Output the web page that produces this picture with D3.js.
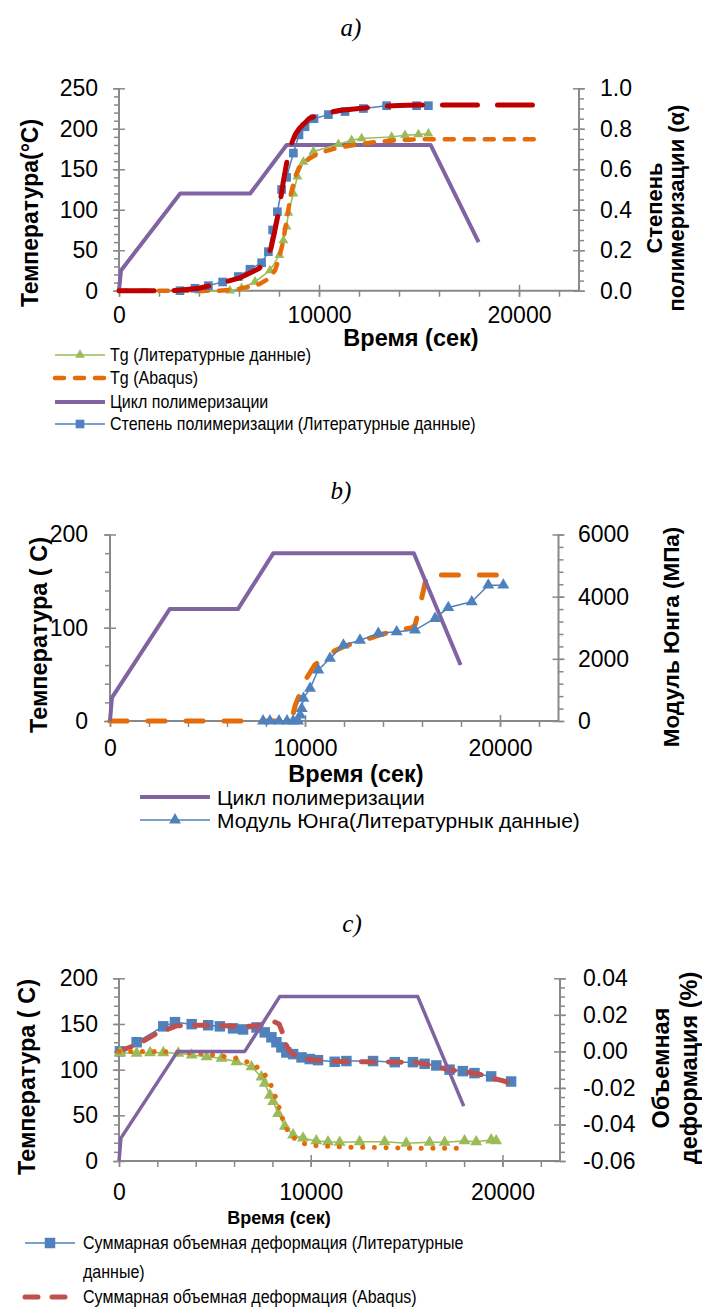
<!DOCTYPE html>
<html>
<head>
<meta charset="utf-8">
<script src="https://cdn.jsdelivr.net/npm/d3@7"></script>
<style>
  body { margin: 0; background: #fff; }
  svg { display: block; }
</style>
</head>
<body>
<svg id="fig" width="702" height="1311"></svg>
<script>
// ---------- shared cure cycle (temperature, °C) ----------
const cycleTime = [0, 100, 3060, 6560, 8380, 15580, 17980];
const cycleTemp = [0, 25, 120, 120, 180, 180, 60];

// ---------- panel a ----------
const tgLitTime = [4000, 5550, 6130, 6800, 7550, 8020, 8220, 8380, 8470, 8720, 8920, 9220, 9720, 10970, 11630, 12130, 13630, 14300, 14970, 15470];
const tgLitVal  = [0, 0, 3, 11, 25, 44, 62, 79, 96, 120, 141, 159, 172, 181, 186, 188, 190, 192, 193, 194];

const tgAbaqusTime = [0, 5000, 6000, 7000, 7500, 7800, 8000, 8200, 8400, 8600, 8800, 9000, 9500, 10000, 11000, 12000, 13000, 14000, 15000, 21100];
const tgAbaqusVal  = [0, 0, 2, 8, 15, 25, 40, 60, 90, 120, 140, 152, 163, 170, 177, 181, 184, 186, 187, 187];

const cureLitTime = [3050, 3800, 4470, 5180, 5970, 6550, 7130, 7470, 7680, 7920, 8130, 8380, 8720, 9000, 9300, 9750, 10470, 11300, 12220, 13380, 14880, 15470];
const cureLitVal  = [0, 0.012, 0.025, 0.043, 0.07, 0.106, 0.138, 0.193, 0.30, 0.39, 0.50, 0.56, 0.68, 0.77, 0.81, 0.85, 0.87, 0.885, 0.90, 0.914, 0.914, 0.914];

const cureModelTime = [0, 2000, 3000, 4000, 5000, 6000, 6500, 7000, 7300, 7600, 7800, 8000, 8200, 8400, 8600, 8800, 9000, 9500, 10000, 11000, 12000, 13000, 14000, 15000, 21100];
const cureModelVal  = [0, 0, 0.002, 0.012, 0.035, 0.062, 0.085, 0.11, 0.14, 0.21, 0.3, 0.4, 0.53, 0.64, 0.72, 0.77, 0.8, 0.85, 0.87, 0.89, 0.9, 0.91, 0.915, 0.918, 0.918];

// ---------- panel b ----------
const youngLitTime = [7850, 8200, 8670, 9080, 9390, 9640, 9750, 9830, 9920, 10260, 10680, 11280, 11970, 12820, 13760, 14700, 15640, 16670, 17350, 18550, 19400, 20170];
const youngLitVal  = [0, 0, 0, 0, 0, 0, 190, 400, 730, 1050, 1640, 2015, 2440, 2600, 2820, 2870, 2925, 3300, 3650, 3835, 4370, 4370];

const youngAbaqusTime = [0, 9300, 9500, 10000, 10500, 11000, 11500, 12000, 13000, 14000, 15000, 15500, 15650, 16000, 16250, 20400];
const youngAbaqusVal  = [0, 0, 500, 1300, 1800, 2050, 2250, 2400, 2600, 2800, 2950, 3000, 3100, 4000, 4700, 4700];

// ---------- panel c ----------
const volLitTime = [50, 920, 2310, 2920, 3790, 4650, 5260, 5950, 6470, 7170, 7600, 7950, 8210, 8470, 8730, 9080, 9520, 9950, 10380, 11250, 11860, 13250, 14380, 15330, 15940, 16550, 17240, 17930, 18540, 19410, 20450];
const volLitVal  = [0, 0.005, 0.0137, 0.016, 0.0149, 0.0143, 0.0137, 0.0126, 0.012, 0.0131, 0.0104, 0.0077, 0.005, 0.0022, -0.0006, -0.0015, -0.0033, -0.0042, -0.0048, -0.0057, -0.0053, -0.0053, -0.0059, -0.0059, -0.0068, -0.0077, -0.01, -0.0108, -0.0119, -0.0137, -0.0165];

const volAbaqusTime = [0, 1000, 2000, 3000, 4000, 5000, 6000, 7000, 7600, 8100, 8350, 8500, 8700, 8900, 9300, 10000, 11000, 12000, 13000, 14000, 15000, 15500, 16000, 16500, 17000, 17500, 18000, 19000, 19500, 20000, 20300];
const volAbaqusVal  = [0, 0.004, 0.01, 0.014, 0.0143, 0.0143, 0.0138, 0.0138, 0.0148, 0.0162, 0.015, 0.011, 0.004, 0, -0.003, -0.0045, -0.0055, -0.0055, -0.0057, -0.0058, -0.006, -0.006, -0.007, -0.0082, -0.0095, -0.0105, -0.011, -0.013, -0.0148, -0.016, -0.017];

const tgLitTimeC = [50, 920, 1620, 2310, 3090, 3790, 4570, 5350, 6130, 6910, 7430, 7600, 7870, 8040, 8300, 8650, 9080, 9600, 10290, 10900, 11510, 12550, 13850, 14980, 16200, 16980, 18020, 18630, 19410, 19670];
const tgLitValC  = [118.5, 118, 118.5, 118.5, 118, 116, 114, 112.4, 108.7, 103, 92, 85, 72, 65, 52, 38, 28.5, 25, 22, 21, 20.4, 21, 21, 19.4, 20.4, 20.4, 22, 21, 23, 22];

const tgAbaqusTimeC = [0, 2000, 3000, 4000, 5000, 6000, 6500, 7000, 7500, 7800, 8000, 8200, 8400, 8600, 8800, 9000, 9500, 10000, 11000, 12000, 13000, 14000, 15000, 16000, 17000, 17850];
const tgAbaqusValC  = [120, 120, 119, 118, 116, 113, 110, 106, 98, 88, 80, 68, 55, 42, 33, 27, 20, 17, 16, 15, 15, 14.5, 14, 14, 14, 14];

// ---------- tick values ----------
const timeMajor = [0, 10000, 20000];
const timeMinor = d3.range(0, 23000, 2000);

// ---------- styling ----------
const AXIS = "#898989";
const COL = { purple: "#8064A2", blue: "#4F81BD", green: "#9BBB59", orange: "#E46C0A", darkRed: "#C00000", red: "#C0504D" };
const SANS = '"Liberation Sans", Arial, sans-serif';
const SERIF = '"Liberation Serif", "Times New Roman", serif';
const FONT_TICK = 23;

const svg = d3.select("#fig");

function styleAxis(g) {
  g.select(".domain").remove();
  g.selectAll(".tick line").attr("stroke", AXIS).attr("stroke-width", 1.5);
  g.selectAll(".tick text").style("font-size", FONT_TICK + "px").style("font-family", SANS).attr("fill", "#000");
  return g;
}

function label(parent, text, size, bold) {
  return parent.append("text").style("font-family", SANS).style("font-size", size + "px")
    .style("font-weight", bold ? "bold" : "normal").attr("fill", "#000").text(text);
}

function panel(cfg) {
  const g = svg.append("g");
  const x = d3.scaleLinear().domain([0, 23000]).range([cfg.x0, cfg.x1]);
  const yL = d3.scaleLinear().domain(cfg.leftDomain).range([cfg.yBot, cfg.yTop]);
  const yR = d3.scaleLinear().domain(cfg.rightDomain).range([cfg.yBot, cfg.yTop]);

  // bottom axis: minor ticks outside, major ticks crossing with labels
  styleAxis(g.append("g").attr("transform", `translate(0,${cfg.yBot})`)
    .call(d3.axisBottom(x).tickValues(timeMinor).tickSize(6).tickSizeOuter(0).tickFormat("")));
  const bx = styleAxis(g.append("g").attr("transform", `translate(0,${cfg.yBot})`)
    .call(d3.axisBottom(x).tickValues(timeMajor).tickSize(6).tickSizeOuter(0)
      .tickPadding(cfg.xPad).tickFormat(d3.format("d"))));
  bx.selectAll(".tick line").attr("y1", -6);

  // left axis
  styleAxis(g.append("g").attr("transform", `translate(${cfg.x0},0)`)
    .call(d3.axisLeft(yL).tickValues(cfg.leftMinor).tickSize(5).tickSizeOuter(0).tickFormat("")));
  const lx = styleAxis(g.append("g").attr("transform", `translate(${cfg.x0},0)`)
    .call(d3.axisLeft(yL).tickValues(cfg.leftMajor).tickSize(6).tickSizeOuter(0)
      .tickPadding(cfg.leftPad).tickFormat(cfg.leftFmt)));
  lx.selectAll(".tick line").attr("x1", 6);

  // right axis
  styleAxis(g.append("g").attr("transform", `translate(${cfg.x1},0)`)
    .call(d3.axisRight(yR).tickValues(cfg.rightMinor).tickSize(5).tickSizeOuter(0).tickFormat("")));
  const rx = styleAxis(g.append("g").attr("transform", `translate(${cfg.x1},0)`)
    .call(d3.axisRight(yR).tickValues(cfg.rightMajor).tickSize(6).tickSizeOuter(0)
      .tickPadding(cfg.rightPad).tickFormat(cfg.rightFmt)));
  rx.selectAll(".tick line").attr("x1", -6);

  // axis lines
  const lines = [[cfg.x0, cfg.yBot, cfg.x1, cfg.yBot], [cfg.x0, cfg.yTop, cfg.x0, cfg.yBot], [cfg.x1, cfg.yTop, cfg.x1, cfg.yBot]];
  g.selectAll("line.ax").data(lines).join("line").attr("class", "ax")
    .attr("x1", d => d[0]).attr("y1", d => d[1]).attr("x2", d => d[2]).attr("y2", d => d[3])
    .attr("stroke", AXIS).attr("stroke-width", 2);

  // panel letter
  g.append("text").attr("x", cfg.title[0]).attr("y", cfg.title[1]).attr("text-anchor", "middle")
    .attr("dominant-baseline", "central").attr("fill", "#000")
    .style("font-family", SERIF).style("font-style", "italic").style("font-size", "25px")
    .text(cfg.titleText);
  // axis titles
  label(g, "Время (сек)", cfg.xTitleSize, true)
    .attr("x", cfg.xTitle[0]).attr("y", cfg.xTitle[1]).attr("text-anchor", "middle").attr("dominant-baseline", "central");
  label(g, cfg.leftTitleText, cfg.leftTitleSize, true)
    .attr("transform", `translate(${cfg.leftTitle[0]},${cfg.leftTitle[1]}) rotate(-90)`)
    .attr("text-anchor", "middle").attr("dominant-baseline", "central");
  cfg.rightTitleLines.forEach((t, i) => {
    label(g, t, cfg.rightTitleSize, true)
      .attr("transform", `translate(${cfg.rightTitleX[i]},${cfg.rightTitleY}) rotate(-90)`)
      .attr("text-anchor", "middle").attr("dominant-baseline", "central");
  });

  return { g, x, yL, yR };
}

function symbolPath(style) {
  return d3.symbol().type(style.marker === "square" ? d3.symbolSquare : d3.symbolTriangle).size(style.msize)();
}

function series(p, xs, ys, yScale, style) {
  const pts = xs.map((t, i) => [p.x(t), yScale(ys[i])]);
  p.g.append("path").attr("d", d3.line()(pts)).attr("fill", "none")
    .attr("stroke", style.color).attr("stroke-width", style.width)
    .attr("stroke-dasharray", style.dash || null)
    .attr("stroke-linecap", style.cap || "butt").attr("stroke-linejoin", "round");
  if (style.marker) {
    p.g.selectAll(null).data(pts).join("path")
      .attr("transform", d => `translate(${d[0]},${d[1]})`).attr("d", symbolPath(style))
      .attr("fill", style.color);
  }
}

// legend rows; `squeeze` narrows the glyphs horizontally
function legend(items, x0, x1, tx, size, squeeze) {
  items.forEach(it => {
    const g = svg.append("g");
    if (it.style) {
      g.append("line").attr("x1", x0).attr("x2", x1).attr("y1", it.y).attr("y2", it.y)
        .attr("stroke", it.style.color).attr("stroke-width", it.style.width)
        .attr("stroke-dasharray", it.style.dash || null).attr("stroke-linecap", it.style.cap || "butt");
      if (it.style.marker) {
        g.append("path").attr("transform", `translate(${(x0 + x1) / 2},${it.y})`)
          .attr("d", symbolPath(it.style)).attr("fill", it.style.color);
      }
    }
    label(g, it.text, size, false)
      .attr("transform", `translate(${tx},${it.y}) scale(${squeeze},1)`)
      .attr("dominant-baseline", "central");
  });
}

// ===== panel a =====
const pa = panel({
  x0: 119, x1: 579, yTop: 88.3, yBot: 290.7,
  leftDomain: [0, 250], leftMajor: d3.range(0, 251, 50), leftMinor: d3.range(0, 251, 10), leftFmt: d3.format("d"), leftPad: 15,
  rightDomain: [0, 1], rightMajor: [0, 0.2, 0.4, 0.6, 0.8, 1.0], rightMinor: d3.range(0, 21).map(i => i * 0.05), rightFmt: d => d.toFixed(1), rightPad: 15,
  xPad: 10,
  title: [351, 27], titleText: "a)",
  xTitle: [411, 338], xTitleSize: 23.5,
  leftTitle: [30, 213], leftTitleText: "Температура(°C)", leftTitleSize: 23,
  rightTitleLines: ["Степень", "полимеризации (α)"], rightTitleX: [654, 676], rightTitleY: 208, rightTitleSize: 22
});
const stCycleA = { color: COL.purple, width: 4 };
const stTgLit = { color: COL.green, width: 1.5, marker: "triangle", msize: 42 };
const stTgAbq = { color: COL.orange, width: 4.5, dash: "9 11", cap: "round" };
const stCureLit = { color: COL.blue, width: 1.5, marker: "square", msize: 75 };
const stCureMod = { color: COL.darkRed, width: 5, dash: "35 20", cap: "round" };
series(pa, cycleTime, cycleTemp, pa.yL, stCycleA);
series(pa, tgLitTime, tgLitVal, pa.yL, stTgLit);
series(pa, tgAbaqusTime, tgAbaqusVal, pa.yL, stTgAbq);
series(pa, cureLitTime, cureLitVal, pa.yR, stCureLit);
series(pa, cureModelTime, cureModelVal, pa.yR, stCureMod);
legend([
  { y: 355, text: "Tg (Литературные данные)", style: stTgLit },
  { y: 378, text: "Tg (Abaqus)", style: stTgAbq },
  { y: 402, text: "Цикл полимеризации", style: stCycleA },
  { y: 424, text: "Степень полимеризации (Литературные данные)", style: stCureLit }
], 55, 105, 110, 17.5, 0.915);

// ===== panel b =====
const pb = panel({
  x0: 110, x1: 558.5, yTop: 534.5, yBot: 721,
  leftDomain: [0, 200], leftMajor: [0, 100, 200], leftMinor: d3.range(0, 201, 20), leftFmt: d3.format("d"), leftPad: 16,
  rightDomain: [0, 6000], rightMajor: [0, 2000, 4000, 6000], rightMinor: d3.range(0, 6001, 400), rightFmt: d3.format("d"), rightPad: 13.5,
  xPad: 13,
  title: [341, 490], titleText: "b)",
  xTitle: [356, 774], xTitleSize: 23.5,
  leftTitle: [39, 635], leftTitleText: "Температура ( C)", leftTitleSize: 23.5,
  rightTitleLines: ["Модуль Юнга (МПа)"], rightTitleX: [671], rightTitleY: 637, rightTitleSize: 22.5
});
const stCycleB = { color: COL.purple, width: 4 };
const stYoungLit = { color: COL.blue, width: 1.5, marker: "triangle", msize: 62 };
const stYoungAbq = { color: COL.orange, width: 5, dash: "17 21", cap: "round" };
series(pb, youngAbaqusTime, youngAbaqusVal, pb.yR, stYoungAbq);
series(pb, cycleTime, cycleTemp, pb.yL, stCycleB);
series(pb, youngLitTime, youngLitVal, pb.yR, stYoungLit);
legend([
  { y: 797, text: "Цикл полимеризации", style: stCycleB },
  { y: 820, text: "Модуль Юнга(Литературнык данные)", style: stYoungLit }
], 140, 210, 217, 21, 1);

// ===== panel c =====
const pc = panel({
  x0: 119, x1: 560, yTop: 978.3, yBot: 1161,
  leftDomain: [0, 200], leftMajor: d3.range(0, 201, 50), leftMinor: d3.range(0, 201, 10), leftFmt: d3.format("d"), leftPad: 15,
  rightDomain: [-0.06, 0.04], rightMajor: [-0.06, -0.04, -0.02, 0, 0.02, 0.04], rightMinor: d3.range(0, 21).map(i => -0.06 + i * 0.005), rightFmt: d => (Math.abs(d) < 1e-9 ? 0 : d).toFixed(2), rightPad: 17,
  xPad: 17,
  title: [352, 923], titleText: "c)",
  xTitle: [279, 1218], xTitleSize: 18,
  leftTitle: [27, 1077], leftTitleText: "Температура ( C)", leftTitleSize: 23.5,
  rightTitleLines: ["Объемная", "деформация (%)"], rightTitleX: [661, 689], rightTitleY: 1068, rightTitleSize: 23.5
});
const stCycleC = { color: COL.purple, width: 3.5 };
const stVolLit = { color: COL.blue, width: 1.5, marker: "square", msize: 110 };
const stVolAbq = { color: COL.red, width: 5, dash: "13 14", cap: "round" };
const stTgLitC = { color: COL.green, width: 1.5, marker: "triangle", msize: 62 };
const stTgAbqC = { color: COL.orange, width: 5, dash: "0.1 11.6", cap: "round" };
series(pc, volLitTime, volLitVal, pc.yR, stVolLit);
series(pc, volAbaqusTime, volAbaqusVal, pc.yR, stVolAbq);
series(pc, tgLitTimeC, tgLitValC, pc.yL, stTgLitC);
series(pc, tgAbaqusTimeC, tgAbaqusValC, pc.yL, stTgAbqC);
series(pc, cycleTime, cycleTemp, pc.yL, stCycleC);
legend([
  { y: 1243, text: "Суммарная объемная деформация (Литературные", style: stVolLit },
  { y: 1272, text: "данные)" },
  { y: 1297, text: "Суммарная объемная деформация (Abaqus)", style: stVolAbq }
], 25, 75, 83, 17.5, 0.915);
</script>
</body>
</html>
